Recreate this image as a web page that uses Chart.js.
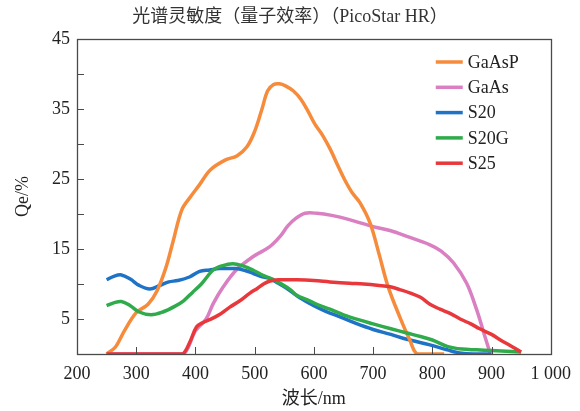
<!DOCTYPE html>
<html><head><meta charset="utf-8">
<script src="https://cdn.jsdelivr.net/npm/chart.js@4.4.1/dist/chart.umd.min.js"></script>
<style>html,body{margin:0;padding:0;background:#fff}canvas{display:block}</style>
</head><body>
<canvas id="c" width="580" height="411"></canvas>
<script>
// ---- data ----
const seriesNames = ['GaAsP', 'GaAs', 'S20', 'S20G', 'S25'];
const seriesColors = ['#f68b3c', '#d97fc2', '#1f73c6', '#2fab4b', '#e8383c'];

const gaaspX = [250, 265, 280, 300, 320, 335, 350, 362, 377, 392, 407, 425, 450, 470, 487, 500, 512, 522, 532, 542, 552, 565, 578, 590, 602, 615, 628, 640, 652, 665, 678, 695, 710, 725, 745, 762, 775, 820];
const gaaspY = [0, 1.0, 3.3, 5.9, 7.1, 9.0, 12.3, 16.0, 20.6, 22.5, 24.2, 26.3, 27.7, 28.3, 29.6, 31.8, 34.9, 37.6, 38.5, 38.6, 38.3, 37.6, 36.4, 34.7, 32.8, 31.2, 29.2, 27.0, 24.9, 23.0, 21.6, 18.7, 14.3, 9.7, 5.3, 2.0, 0, 0];

const gaasX = [250, 300, 350, 380, 400, 418, 430, 447, 469, 497, 525, 543, 556, 570, 585, 605, 630, 660, 700, 730, 757, 796, 815, 836, 858, 875, 887, 898];
const gaasY = [0, 0, 0, 0, 3.3, 5.0, 7.2, 9.6, 12.0, 13.9, 15.3, 16.8, 18.3, 19.4, 20.1, 20.1, 19.8, 19.2, 18.2, 17.6, 16.8, 15.6, 14.7, 13.0, 10.1, 6.3, 3.0, 0];

const s20X = [250, 262, 275, 290, 305, 323, 340, 355, 370, 390, 407, 424, 440, 455, 470, 485, 498, 510, 525, 540, 554, 575, 600, 620, 644, 670, 700, 730, 757, 796, 825, 850, 875, 900];
const s20Y = [10.6, 11.1, 11.3, 10.7, 9.8, 9.3, 9.8, 10.3, 10.5, 11.0, 11.8, 12.0, 12.2, 12.2, 12.2, 11.9, 11.5, 11.1, 10.8, 10.1, 9.4, 8.1, 6.9, 6.1, 5.3, 4.4, 3.5, 2.8, 2.1, 1.3, 0.6, 0.1, 0, 0];

const s20gX = [250, 262, 275, 290, 305, 325, 345, 365, 380, 395, 410, 430, 445, 463, 480, 497, 515, 530, 543, 560, 571, 590, 605, 627, 650, 675, 700, 730, 757, 780, 800, 825, 850, 875, 900, 950];
const s20gY = [6.9, 7.3, 7.5, 6.9, 6.0, 5.6, 6.0, 6.8, 7.6, 8.8, 10.0, 12.0, 12.6, 12.9, 12.6, 12.0, 11.2, 10.7, 10.1, 9.2, 8.4, 7.7, 7.1, 6.4, 5.6, 4.9, 4.3, 3.6, 3.0, 2.5, 2.0, 1.1, 0.7, 0.6, 0.5, 0.3];

const s25X = [250, 300, 350, 378, 390, 402, 413, 424, 440, 458, 475, 492, 505, 515, 525, 540, 571, 600, 627, 660, 684, 710, 729, 745, 763, 780, 796, 813, 830, 847, 865, 880, 900, 915, 930, 950];
const s25Y = [0, 0, 0, 0, 1.6, 3.9, 4.5, 4.9, 5.6, 6.7, 7.6, 8.7, 9.4, 10.0, 10.4, 10.6, 10.6, 10.5, 10.3, 10.1, 10.0, 9.8, 9.6, 9.2, 8.7, 8.1, 7.1, 6.4, 5.8, 5.0, 4.3, 3.6, 2.8, 2.0, 1.3, 0.3];

const xTickValues = [200, 300, 400, 500, 600, 700, 800, 900, 1000];
const xTickLabels = ['200', '300', '400', '500', '600', '700', '800', '900', '1 000'];
const yLabelledTicks = [5, 15, 25, 35, 45];

const titleText = '光谱灵敏度（量子效率）（PicoStar HR）';
const xTitle = '波长/nm';
const yTitle = 'Qe/%';

// ---- chart ----
const FONT = "'Liberation Serif', 'Noto Sans CJK SC', serif";
const xs = [gaaspX, gaasX, s20X, s20gX, s25X];
const ys = [gaaspY, gaasY, s20Y, s20gY, s25Y];
const drawOrder = [2, 4, 3, 1, 0];

const datasets = seriesNames.map((name, i) => ({
  label: name,
  data: xs[i].map((x, k) => ({x: x, y: ys[i][k]})),
  borderColor: seriesColors[i],
  backgroundColor: seriesColors[i],
  borderWidth: 3.5,
  pointRadius: 0,
  tension: 0.35,
  fill: false,
  order: drawOrder[i]
}));

const framePlugin = {
  id: 'frame',
  afterDraw(chart) {
    const {ctx, chartArea: a, scales} = chart;
    ctx.save();
    // title, centred on the whole canvas
    ctx.font = '18px ' + FONT;
    ctx.fillStyle = '#333';
    ctx.textAlign = 'center';
    ctx.textBaseline = 'middle';
    ctx.fillText(titleText, chart.width / 2, 17.5);

    ctx.strokeStyle = '#4a4a4a';
    ctx.lineWidth = 1;
    // inward tick marks
    const tl = 7;
    ctx.beginPath();
    scales.x.ticks.forEach(t => {
      const px = Math.round(scales.x.getPixelForValue(t.value)) + 0.5;
      if (px <= a.left + 1 || px >= a.right - 1) return;
      ctx.moveTo(px, a.bottom); ctx.lineTo(px, a.bottom - tl);
    });
    scales.y.ticks.forEach(t => {
      const py = Math.round(scales.y.getPixelForValue(t.value)) + 0.5;
      if (py <= a.top + 1 || py >= a.bottom - 1) return;
      ctx.moveTo(a.left, py); ctx.lineTo(a.left + tl, py);
    });
    ctx.stroke();
    ctx.lineWidth = 1.3;
    ctx.strokeRect(Math.round(a.left) + 0.5, Math.round(a.top) + 0.5, Math.round(a.right - a.left), Math.round(a.bottom - a.top));
    // legend inside the plot
    ctx.font = '18px ' + FONT;
    ctx.textBaseline = 'middle';
    ctx.textAlign = 'left';
    chart.data.datasets.forEach((ds, i) => {
      const y = a.top + 23 + i * 25.3;
      const x0 = a.right - 115;
      ctx.strokeStyle = ds.borderColor;
      ctx.lineWidth = 3.5;
      ctx.beginPath(); ctx.moveTo(x0, y); ctx.lineTo(x0 + 27, y); ctx.stroke();
      ctx.fillStyle = '#222';
      ctx.fillText(ds.label, x0 + 32, y + 1);
    });
    ctx.restore();
  }
};

new Chart(document.getElementById('c'), {
  type: 'line',
  data: {datasets},
  plugins: [framePlugin],
  options: {
    responsive: false,
    animation: false,
    devicePixelRatio: 1,
    layout: {padding: {left: 0, right: 29, top: 39, bottom: 0}},
    plugins: {
      legend: {display: false},
      tooltip: {enabled: false},
      title: {display: false}
    },
    scales: {
      x: {
        type: 'linear', min: 200, max: 1000,
        afterBuildTicks(s) { s.ticks = xTickValues.map(v => ({value: v})); },
        afterFit(s) { s.height = 57; },
        grid: {display: false, drawTicks: false},
        border: {display: false},
        ticks: {
          color: '#222', padding: 9, maxRotation: 0, autoSkip: false,
          font: {family: FONT, size: 18},
          callback: (v) => { const k = xTickValues.indexOf(v); return k >= 0 ? xTickLabels[k] : ''; }
        },
        title: {display: true, text: xTitle, color: '#222', font: {family: FONT, size: 18}, padding: {top: 0, bottom: 1}}
      },
      y: {
        type: 'linear', min: 0, max: 45,
        afterFit(s) { s.width = 77; },
        grid: {display: false, drawTicks: false},
        border: {display: false},
        ticks: {
          stepSize: 5, color: '#222', padding: 7, autoSkip: false,
          font: {family: FONT, size: 18},
          callback: (v) => yLabelledTicks.includes(v) ? String(v) : ''
        },
        title: {display: true, text: yTitle, color: '#222', font: {family: FONT, size: 18}, padding: {top: 12, bottom: 0}}
      }
    }
  }
});
</script>
</body></html>
